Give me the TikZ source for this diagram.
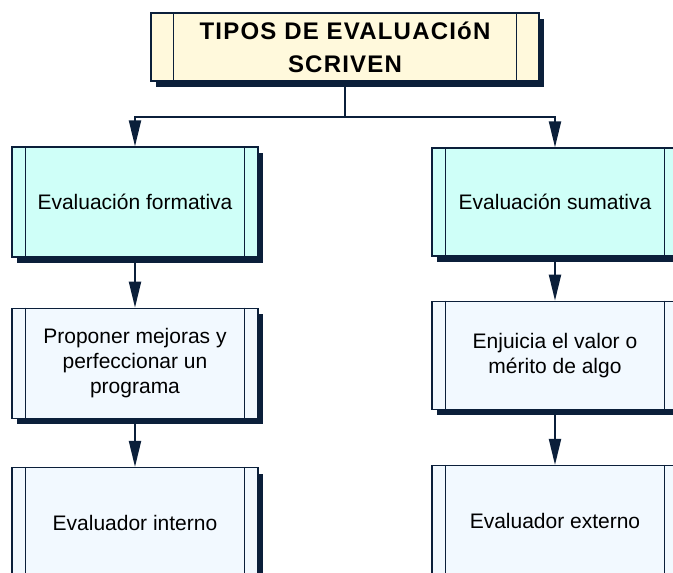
\documentclass[tikz,border=0pt]{standalone}
\usepackage{fontspec}
\setmainfont{Liberation Sans}
\usetikzlibrary{shapes, arrows.meta, positioning, calc, shadows}
\definecolor{inkblue}{HTML}{0B1F3A}
\definecolor{cream}{HTML}{FFF9DC}
\definecolor{mint}{HTML}{CFFFF8}
\definecolor{pale}{HTML}{F2F9FF}

\begin{document}
\begin{tikzpicture}[x=1pt, y=-1pt, node distance=50pt, line width=2pt, inkblue,
    >={Triangle[length=26pt, width=12pt]},
    proc/.style={draw=inkblue, line width=1.3pt, rectangle, minimum width=246pt, minimum height=110pt,
      align=center, text=black, font=\fontsize{21}{25}\selectfont,
      drop shadow={shadow xshift=5pt, shadow yshift=-6pt, fill=inkblue, opacity=1}}]
    \useasboundingbox (0,0) rectangle (673,573);
    \clip (0,0) rectangle (673,573);
    \fill[white] (0,0) rectangle (673,573);

    \node (title) [proc, fill=cream, minimum width=388pt, minimum height=68pt,
      font=\bfseries\fontsize{24}{33}\selectfont\addfontfeature{LetterSpace=5}] at (345,47) {TIPOS DE EVALUACIóN\\SCRIVEN};

    \node (formativa) [proc, fill=mint] at (135,202) {Evaluación formativa};
    \node (mejoras) [proc, fill=pale, below=of formativa] {Proponer mejoras y\\perfeccionar un\\programa};
    \node (interno) [proc, fill=pale, below=48pt of mejoras] {Evaluador interno};

    \node (sumativa) [proc, fill=mint, minimum height=108pt] at (555,202) {Evaluación sumativa};
    \node (juicio) [proc, fill=pale, minimum height=108pt, below=44pt of sumativa] {Enjuicia el valor o\\mérito de algo};
    \node (externo) [proc, fill=pale, below=55pt of juicio] {Evaluador externo};

    % side bars
    \foreach \n/\d in {title/23, formativa/14, mejoras/14, interno/14, sumativa/14, juicio/14, externo/14} {
        \draw[line width=1.3pt] ([xshift=\d pt]\n.north west) -- ([xshift=\d pt]\n.south west);
        \draw[line width=1.3pt] ([xshift=-\d pt]\n.north east) -- ([xshift=-\d pt]\n.south east);
    }

    \coordinate (split) at ($(title.south)+(0,35)$);
    \draw (title) -- (split);
    \draw[->] (split) -| (formativa.north);
    \draw[->] (split) -| (sumativa.north);

    \draw[->] (formativa) -- (mejoras);
    \draw[->] (mejoras) -- (interno);
    \draw[->] (sumativa) -- (juicio);
    \draw[->] (juicio) -- (externo);
\end{tikzpicture}
\end{document}
